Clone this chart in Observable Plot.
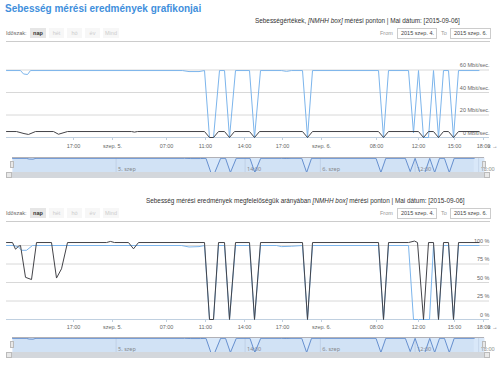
<!DOCTYPE html>
<html><head><meta charset="utf-8">
<script src="https://cdn.jsdelivr.net/npm/d3@7"></script>
<script src="https://cdn.jsdelivr.net/npm/@observablehq/plot@0.6"></script>
<style>
body{margin:0;background:#fff;font-family:"Liberation Sans",Arial,sans-serif;}
#root{position:relative;width:500px;height:369px;overflow:hidden;}
.abs{position:absolute;white-space:nowrap;}
.title{left:5px;top:3px;font-size:10px;font-weight:bold;color:#3f8fdc;}
.sub{font-size:6.4px;color:#333;}
.lbl{font-size:5.5px;color:#666;}
.btn{position:absolute;height:10px;line-height:10px;text-align:center;background:#f7f7f7;color:#ccc;font-size:5.5px;}
.btn.sel{background:#e6e6e6;color:#333;font-weight:bold}
.inp{position:absolute;height:9px;line-height:9px;border:1px solid #ccc;font-size:5.5px;color:#444;padding-left:3px;box-sizing:content-box;}
.sep{position:absolute;height:1px;background:#ccc;}
.sb{position:absolute;background:#d3d7dc;}
.sbb{position:absolute;background:#e8e8e8;border:1px solid #bbb;box-sizing:border-box;}
svg{position:absolute;overflow:visible;}
</style>
</head><body><div id="root"></div>
<script>
// ---- data (x = measurement slot on the ordinal time axis) ----
const xTicks = [13.4, 21.2, 32, 39.8, 47.6, 55.2, 63, 74, 82.4, 89.6, 95.4];
const xTickLabels = ["17:00", "szep. 5.", "07:00", "11:00", "14:00", "17:00", "szep. 6.", "08:00", "12:00", "15:00", "18:00"];
const navTicks = [21.2, 47.6, 63, 82.4, 95.4];
const navTickLabels = ["5. szep", "14:00", "6. szep", "12:00", "18:00"];
const speedGrid = [0, 20, 40, 60];
const pctGrid = [0, 25, 50, 75, 100];

// Sebességértékek (Mbit/sec.)
const speedBlue = [[0,59.5],[2.8,59.5],[3.4,56.5],[4.2,56],[4.8,59.5],[35.2,59.5],[36.5,58.6],[38.5,58.6],[39.6,59.5],
 [40.6,0],[41.4,0],[42.6,59.5],[43.6,59.5],[44.6,0],[45.8,59.5],[48.6,59.5],[49.6,0],[50.8,59.5],[55,59.5],[56,58.8],[57,59.5],
 [59.2,59.5],[60.2,0],[61.2,59.5],[74.4,59.5],[75.4,0],[76.4,59.5],[80.4,59.5],[81.4,4],[82.4,59.5],[83.4,0],[84.4,0],[85.4,59.5],
 [86.4,0],[87.4,59.5],[88.4,59.5],[89.4,0],[90.4,59.5],[94.5,59.5]];
const speedBlack = [[0,5.3],[2,5.3],[3.5,3.5],[4.4,2.7],[5.8,5.3],[9.4,5.3],[10.4,2.9],[12.2,5.3],[25,5.3],[25.6,4.8],[26.2,5.3],[39.6,5.3],
 [40.6,0],[41.4,0],[42.4,5.3],[43.6,5.3],[44.6,0],[45.6,5.3],[48.6,5.3],[49.6,0],[50.6,5.3],[59.2,5.3],[60.2,0],[61.2,5.3],
 [74.4,5.3],[75.4,0],[76.4,5.3],[82.4,5.3],[83.4,0],[84.4,5.3],[85.4,5.3],[86.4,0],[87.4,5.3],[88.4,5.3],[89.4,0],[90.4,5.3],[94.5,5.3]];

// Megfelelőség (%)
const pctBlue = [[0,100],[1.5,100],[2.4,98],[3,93.5],[4,93.5],[5.2,100],[35,100],[36.5,98],[38.5,98.5],[39.6,100],[40.6,0],[41.4,0],[42.4,100],
 [43.6,100],[44.6,0],[45.8,100],[48.6,100],[49.6,0],[50.8,100],[54,100],[55,98.5],[57,99],[59.2,100],[60.2,0],[61.2,100],
 [74.4,100],[75.4,0],[76.4,100],[80.4,100],[81.4,0],[84.6,0],[85.4,100],[86.4,0],[87.4,100],[88.4,100],[89.4,0],[90.4,100],[94.5,100]];
const pctBlack = [[0,104],[1.2,104],[1.8,95],[2.4,99],[2.8,100],[3.8,57],[5,54],[6,104],[9,104],[10,56],[11,68.5],[12.2,104],[20,104],
 [20.8,105.5],[21.6,104],[24.4,104],[25.4,95.5],[26.4,104],[39.6,104],[40.6,0],[41.4,0],[42.4,104],[43.6,104],[44.6,0],[45.8,104],
 [48.6,104],[49.6,0],[50.8,104],[59.2,104],[60.2,0],[61.2,104],[74.4,104],[75.4,0],[76.4,104],[80.4,104],[81.6,106],[82.2,104],[83.4,0],[84.4,104],
 [85.4,104],[86.4,0],[87.4,104],[88.4,104],[89.4,0],[90.4,104],[94.5,104]];

const BLUE = "#7cb5ec", DARK = "#434348";
const root = document.getElementById("root");
const tickLab = new Map(xTicks.map((t, i) => [t, xTickLabels[i]]));
const navLab = new Map(navTicks.map((t, i) => [t, navTickLabels[i]]));
const toObj = a => a.map(([x, y]) => ({x, y}));

function el(cls, css, html) {
  const d = document.createElement("div");
  d.className = cls; d.style.cssText = css; if (html != null) d.innerHTML = html;
  root.appendChild(d); return d;
}
function place(svg, left, top) {
  svg.style.left = left + "px"; svg.style.top = top + "px"; root.appendChild(svg);
}

el("abs title", "", "Sebesség mérési eredmények grafikonjai");

function header(top, subLeft, subHtml) {
  el("abs sub", `left:${subLeft}px;top:${top}px;`, subHtml);
  const ry = top + 11;
  el("abs lbl", `left:6px;top:${ry + 2}px;`, "Időszak:");
  const btns = [["nap", 30, 16], ["hét", 49, 15], ["hó", 67, 15], ["év", 85, 15], ["Mind", 103, 16]];
  btns.forEach(([t, l, w], i) => el("btn" + (i === 0 ? " sel" : ""), `left:${l}px;top:${ry}px;width:${w}px;`, t));
  el("abs lbl", `left:380px;top:${ry + 2}px;color:#999`, "From");
  el("inp", `left:397px;top:${ry}px;width:35px;`, "2015 szep. 4.");
  el("abs lbl", `left:441px;top:${ry + 2}px;color:#999`, "To");
  el("inp", `left:450px;top:${ry}px;width:36px;`, "2015 szep. 6.");
  el("sep", `left:6px;width:484px;top:${ry + 13}px;`);
}

function mainChart(blue, dark, grid, fmt, yDomain, top, H, mTop, mBottom, pad) {
  const svg = Plot.plot({
    width: 500, height: H, marginLeft: 6, marginRight: 11, marginTop: mTop, marginBottom: mBottom,
    style: {fontFamily: "Liberation Sans, Arial, sans-serif", background: "transparent"},
    x: {domain: [0, 96.6], axis: null},
    y: {domain: yDomain, axis: null},
    marks: [
      Plot.ruleY(grid.slice(1), {stroke: "#d8d8d8", strokeWidth: 1}),
      Plot.ruleY([grid[0]], {stroke: "#c0d0e0", strokeWidth: 1}),
      Plot.text(grid, {y: d => d, text: fmt, frameAnchor: "right", textAnchor: "end", dy: -4.5, fontSize: 5.5, fill: "#666"}),
      Plot.line(toObj(blue), {x: "x", y: "y", stroke: BLUE, strokeWidth: 1}),
      Plot.line(toObj(dark), {x: "x", y: "y", stroke: DARK, strokeWidth: 1}),
      Plot.axisX({ticks: xTicks, tickFormat: d => tickLab.get(d), tickSize: 3, tickPadding: pad, fontSize: 5.5, fill: "#666", stroke: "#c0d0e0"})
    ]
  });
  place(svg, 0, top);
}

function navigator(series, top) {
  const svg = Plot.plot({
    width: 500, height: 16, marginLeft: 12, marginRight: 16, marginTop: 1, marginBottom: 0,
    style: {background: "transparent"},
    x: {domain: [0, 96.6], axis: null},
    y: {domain: [0, 63], axis: null},
    marks: [
      Plot.frame({fill: "#d9e8f9", stroke: null}),
      Plot.ruleX(navTicks, {stroke: "#c6d6ea", strokeWidth: 1}),
      Plot.text(navTicks, {x: d => d, text: d => navLab.get(d), frameAnchor: "bottom", textAnchor: "start", dx: 2, dy: -1.5, fontSize: 5.5, fill: "#888"}),
      Plot.areaY(toObj(series), {x: "x", y: "y", fill: "#4572a7", fillOpacity: 0.05}),
      Plot.line(toObj(series), {x: "x", y: "y", stroke: "#6690cf", strokeWidth: 1}),
      Plot.ruleY([63], {stroke: "#b2b1b6", strokeWidth: 1})
    ]
  });
  place(svg, 0, top);
  el("sbb", `left:10px;top:${top + 5}px;width:4px;height:7px;`);
  el("sbb", `left:482px;top:${top + 5}px;width:4px;height:7px;`);
  el("sb", `left:6px;width:484px;top:${top + 16}px;height:6px;`);
  el("sbb", `left:6px;top:${top + 16}px;width:6px;height:6px;`, "");
  el("sbb", `left:484px;top:${top + 16}px;width:6px;height:6px;`, "");
}

header(17, 255, "Sebességértékek, <i>[NMHH box]</i> mérési ponton | Mai dátum: [2015-09-06]");
mainChart(speedBlue, speedBlack, speedGrid, d => d + " Mbit/sec.", [0, 60], 47, 103, 22.5, 13, 4);
navigator(speedBlue, 156);

header(197, 146, "Sebesség mérési eredmények megfelelőségük arányában <i>[NMHH box]</i> mérési ponton | Mai dátum: [2015-09-06]");
mainChart(pctBlue, pctBlack, pctGrid, d => d + " %", [0, 100], 228, 103, 17, 12, 3);
navigator(speedBlue, 336);
</script>
</body></html>
